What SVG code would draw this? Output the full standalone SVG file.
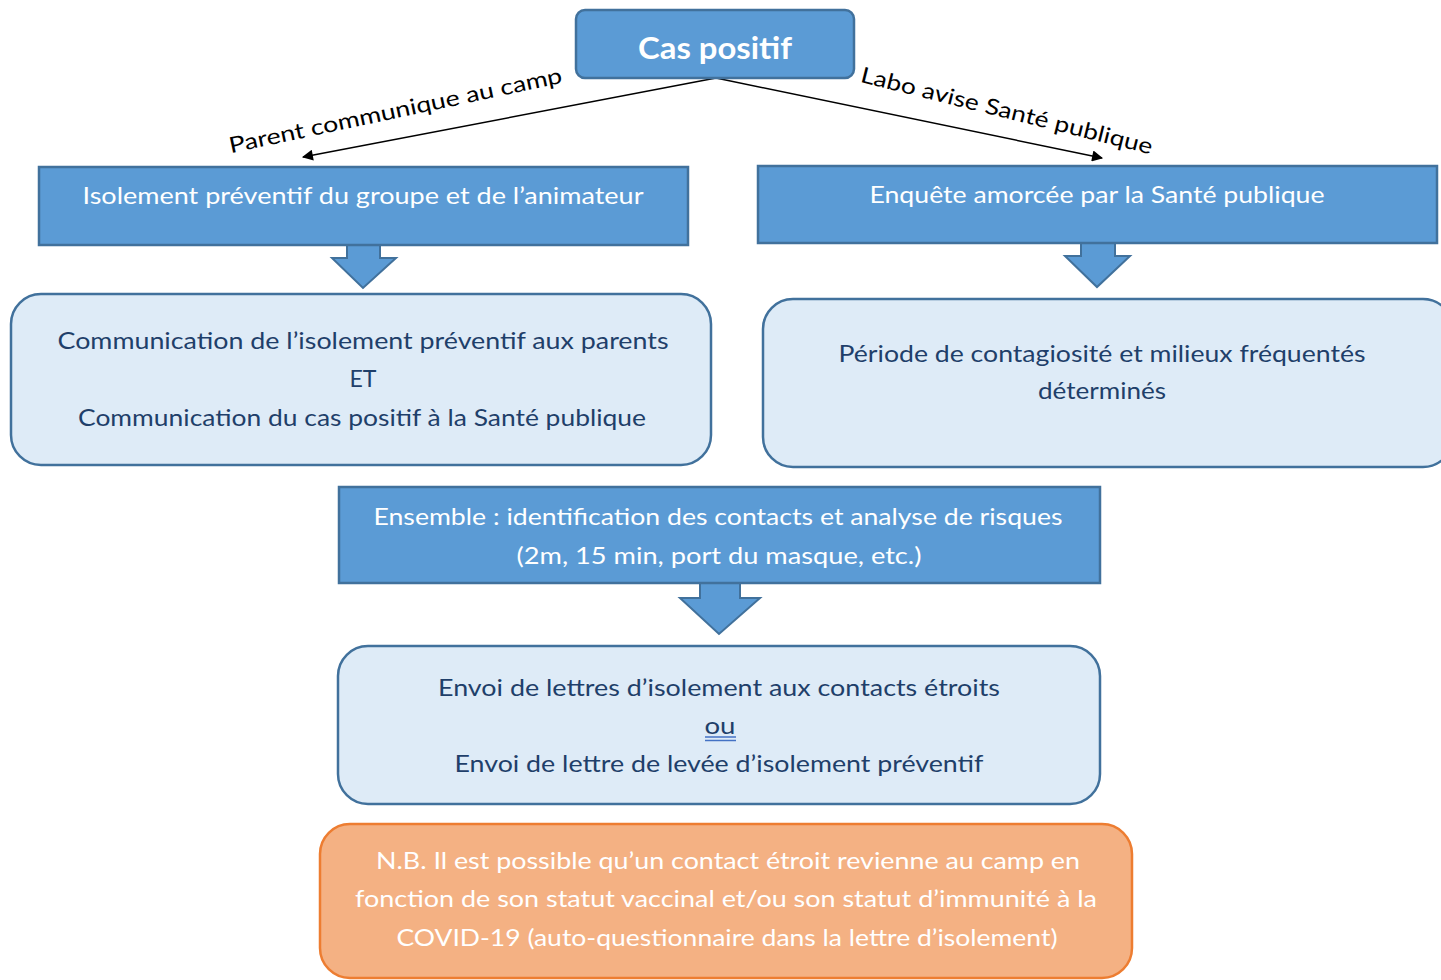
<svg xmlns="http://www.w3.org/2000/svg" width="1441" height="980" viewBox="0 0 1441 980">
<style>
.blue{fill:#5b9bd5;stroke:#41719c;stroke-width:2.5}
.light{fill:#deebf7;stroke:#41719c;stroke-width:2.5}
.orange{fill:#f4b183;stroke:#ed7d31;stroke-width:2.5}
.wt{fill:#ffffff;font-family:Lato,"Open Sans",sans-serif;font-size:23px;text-anchor:middle}
.dt{fill:#1f3f6a;font-family:Lato,"Open Sans",sans-serif;font-size:23px;text-anchor:middle}
.lbl{fill:#000000;font-family:Lato,"Open Sans",sans-serif;font-size:22px;text-anchor:middle}
.conn{stroke:#000;stroke-width:1.5;fill:none}
.darrow{fill:#5b9bd5;stroke:#41719c;stroke-width:2}
</style>
<defs>
<marker id="ah" viewBox="0 0 10 10" refX="9" refY="5" markerWidth="13" markerHeight="11" markerUnits="userSpaceOnUse" orient="auto">
<path d="M0,0 L10,5 L0,10 z" fill="#000"/>
</marker>
</defs>

<g id="connectors">
<line class="conn" x1="716" y1="78" x2="303" y2="157" marker-end="url(#ah)"/>
<line class="conn" x1="716" y1="78" x2="1102" y2="158" marker-end="url(#ah)"/>
<text class="lbl" transform="translate(397,118) rotate(-12)" textLength="340" lengthAdjust="spacingAndGlyphs">Parent communique  au camp</text>
<text class="lbl" transform="translate(1005,118) rotate(14)" textLength="300" lengthAdjust="spacingAndGlyphs">Labo avise Santé publique</text>
<path class="darrow" d="M347,245 L380,245 L380,258 L396,258 L363,288 L332,258 L347,258 Z"/>
<path class="darrow" d="M1081,243 L1115,243 L1115,256 L1130,256 L1097,287 L1065,256 L1081,256 Z"/>
<path class="darrow" d="M700,583 L740,583 L740,598 L760,598 L719,634 L680,598 L700,598 Z"/>
</g>

<g id="cas-positif">
<rect class="blue" x="576" y="10" width="278" height="68" rx="9"/>
<text x="715" y="59" fill="#fff" font-family="Lato,'Open Sans',sans-serif" font-size="30" font-weight="bold" text-anchor="middle" textLength="154" lengthAdjust="spacingAndGlyphs">Cas positif</text>
</g>

<g id="isolement">
<rect class="blue" x="39" y="167" width="649" height="78"/>
<text class="wt" x="363" y="204" textLength="561" lengthAdjust="spacingAndGlyphs">Isolement préventif  du groupe et de l’animateur</text>
</g>

<g id="enquete">
<rect class="blue" x="758" y="166" width="679" height="77"/>
<text class="wt" x="1097" y="203" textLength="455" lengthAdjust="spacingAndGlyphs">Enquête  amorcée par la Santé publique</text>
</g>

<g id="communication">
<rect class="light" x="11" y="294" width="700" height="171" rx="30"/>
<text class="dt" x="363" y="349" textLength="611" lengthAdjust="spacingAndGlyphs">Communication de l’isolement préventif aux parents</text>
<text class="dt" x="363" y="387" textLength="27" lengthAdjust="spacingAndGlyphs">ET</text>
<text class="dt" x="362" y="426" textLength="568" lengthAdjust="spacingAndGlyphs">Communication du cas positif à la Santé publique</text>
</g>

<g id="periode">
<rect class="light" x="763" y="299" width="690" height="168" rx="30"/>
<text class="dt" x="1102" y="362" textLength="527" lengthAdjust="spacingAndGlyphs">Période de contagiosité et milieux fréquentés</text>
<text class="dt" x="1102" y="399" textLength="128" lengthAdjust="spacingAndGlyphs">déterminés</text>
</g>

<g id="ensemble">
<rect class="blue" x="339" y="487" width="761" height="96"/>
<text class="wt" x="718" y="525" textLength="689" lengthAdjust="spacingAndGlyphs">Ensemble  : identification des contacts et analyse de risques</text>
<text class="wt" x="719" y="564" textLength="405" lengthAdjust="spacingAndGlyphs">(2m, 15 min, port du masque, etc.)</text>
</g>

<g id="envoi">
<rect class="light" x="338" y="646" width="762" height="158" rx="30"/>
<text class="dt" x="719" y="696" textLength="562" lengthAdjust="spacingAndGlyphs">Envoi de lettres d’isolement aux contacts étroits</text>
<text class="dt" x="720" y="734" textLength="31" lengthAdjust="spacingAndGlyphs">ou</text>
<line x1="705" y1="737" x2="736" y2="737" stroke="#4472c4" stroke-width="1.5"/>
<line x1="705" y1="740.5" x2="736" y2="740.5" stroke="#4472c4" stroke-width="1.5"/>
<text class="dt" x="719" y="772" textLength="529" lengthAdjust="spacingAndGlyphs">Envoi de lettre de levée d’isolement préventif</text>
</g>

<g id="nb">
<rect class="orange" x="320" y="824" width="812" height="154" rx="30"/>
<text class="wt" x="728" y="869" textLength="704" lengthAdjust="spacingAndGlyphs">N.B. Il est possible qu’un contact étroit revienne au camp en</text>
<text class="wt" x="726" y="907" textLength="742" lengthAdjust="spacingAndGlyphs">fonction de son statut vaccinal et/ou son statut d’immunité  à la</text>
<text class="wt" x="727" y="946" textLength="661" lengthAdjust="spacingAndGlyphs">COVID-19 (auto-questionnaire  dans la lettre d’isolement)</text>
</g>
</svg>
